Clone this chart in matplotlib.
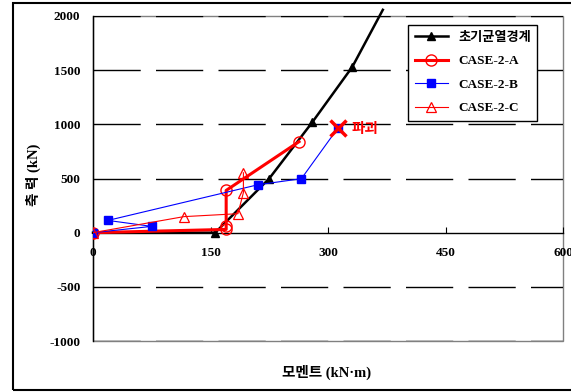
# %%
# import dependencies
import matplotlib
matplotlib.use('Agg')
import matplotlib.pyplot as plt
from matplotlib.patches import Rectangle

plt.rcParams['axes.unicode_minus'] = False

# %%
# data (moment kN.m, axial force kN)
crack_x = [0, 156, 225, 280, 331, 370]
crack_y = [0, 0, 500, 1020, 1530, 2057]

case_a_x = [0, 170, 170, 170, 263]
case_a_y = [0, 30, 60, 390, 840]

case_b_x = [0, 75, 19, 211, 266, 313]
case_b_y = [0, 58, 113, 443, 498, 969]

case_c_x = [0, 116, 185, 192, 192]
case_c_y = [0, 148, 175, 370, 553]

fail_x = 313
fail_y = 969

x_ticks = [0, 150, 300, 450, 600]
y_ticks = [-1000, -500, 0, 500, 1000, 1500, 2000]

num_font = 'Liberation Serif'
kor_font = ['Liberation Serif', 'Noto Sans CJK KR', 'DejaVu Sans']

# %%
fig = plt.figure(figsize=(5.71, 3.92), dpi=100)
ax = fig.add_axes([93 / 571, 51 / 392, 470 / 571, 325 / 392])

# outer frame of the figure
fig.patches.append(Rectangle((13 / 571, 2 / 392), 1.0, 387 / 392, transform=fig.transFigure,
                             fill=False, edgecolor='black', linewidth=1.5, clip_on=False))

# dashed horizontal gridlines
for yv in y_ticks:
    if yv == 0:
        continue
    ax.axhline(yv, color='black', linewidth=1, dashes=(34, 11), zorder=1)

ax.plot(crack_x, crack_y, color='black', linewidth=1.8, marker='^', markersize=6,
        markevery=[1, 2, 3, 4], label='초기균열경계', clip_on=False, zorder=3)
ax.plot(case_a_x, case_a_y, color='red', linewidth=2.2, marker='o', markersize=8,
        markerfacecolor='none', markeredgewidth=1, label='CASE-2-A', zorder=4)
ax.plot(case_b_x, case_b_y, color='blue', linewidth=0.8, marker='s', markersize=6,
        label='CASE-2-B', zorder=4)
ax.plot(case_c_x, case_c_y, color='red', linewidth=0.8, marker='^', markersize=7,
        markerfacecolor='none', markeredgewidth=0.9, label='CASE-2-C', zorder=4)

# failure point
ax.plot(fail_x, fail_y, marker='x', markersize=11, markeredgewidth=2.5, color='red', zorder=5)
ax.text(fail_x + 17, fail_y - 20, '파괴', color='red', fontsize=10.5, fontweight='bold',
        family=kor_font, va='center', ha='left')

ax.set_xlim(0, 600)
ax.set_ylim(-1000, 2000)
ax.set_xticks(x_ticks)
ax.set_yticks(y_ticks)

# x axis sits on zero like the excel chart
ax.spines['bottom'].set_position(('data', 0))
ax.spines['bottom'].set_linewidth(1)
ax.spines['left'].set_linewidth(1)
ax.spines['top'].set_visible(False)
ax.spines['right'].set_visible(False)

# grey plot area border
ax.add_patch(Rectangle((0, 0), 1, 1, transform=ax.transAxes, fill=False,
                       edgecolor='#808080', linewidth=1, zorder=0.5, clip_on=False))

ax.tick_params(axis='x', direction='in', length=4, pad=10)
ax.tick_params(axis='y', length=0, pad=9)
for lbl in ax.get_xticklabels() + ax.get_yticklabels():
    lbl.set_fontfamily(num_font)
    lbl.set_fontweight('bold')
    lbl.set_fontsize(9.5)

fig.text(33 / 571, 1 - 175 / 392, '축 력 (kN)', rotation=90, ha='center', va='center',
         fontsize=10.5, fontweight='bold', family=kor_font)
fig.text(327 / 571, 1 - 372 / 392, '모멘트 (kN·m)', ha='center', va='center',
         fontsize=10.5, fontweight='bold', family=kor_font)

leg = ax.legend(loc='upper left', bbox_to_anchor=((408 - 93) / 470, (341 - 25) / 325),
                frameon=True, fancybox=False, edgecolor='black', framealpha=1,
                borderaxespad=0, handlelength=2.5, labelspacing=0.85, borderpad=0.5,
                prop={'family': kor_font, 'weight': 'bold', 'size': 9.5})
leg.get_frame().set_linewidth(1)

fig.savefig('out.png', dpi=100)
